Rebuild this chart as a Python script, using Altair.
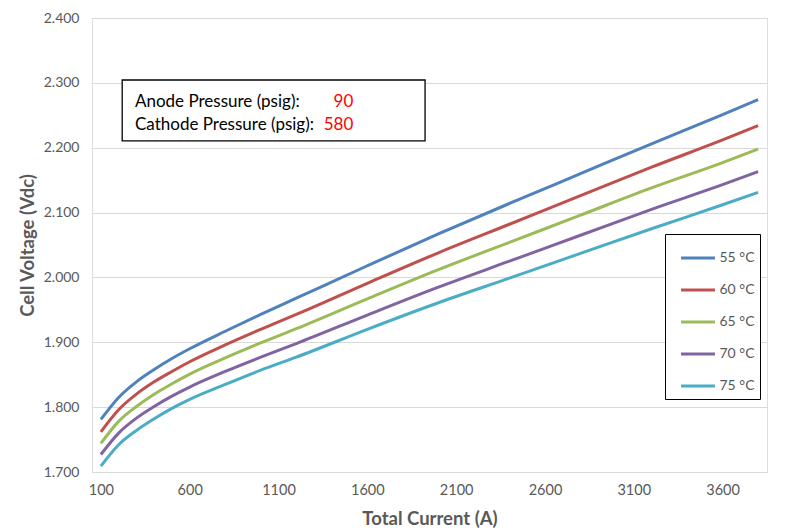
import altair as alt
import pandas as pd

# ---- data ----
current = [100, 200, 300, 400, 500, 600, 800, 1000, 1200, 1600, 2000, 2400, 2800, 3200, 3600, 3800]
v55 = [1.781, 1.815, 1.839, 1.858, 1.875, 1.890, 1.917, 1.943, 1.968, 2.018, 2.067, 2.114, 2.160, 2.206, 2.251, 2.274]
v60 = [1.762, 1.796, 1.820, 1.839, 1.855, 1.870, 1.896, 1.920, 1.943, 1.991, 2.038, 2.082, 2.126, 2.170, 2.212, 2.234]
v65 = [1.744, 1.778, 1.801, 1.820, 1.836, 1.851, 1.876, 1.899, 1.921, 1.967, 2.012, 2.054, 2.096, 2.138, 2.177, 2.198]
v70 = [1.727, 1.760, 1.783, 1.801, 1.817, 1.831, 1.855, 1.877, 1.898, 1.942, 1.985, 2.025, 2.065, 2.105, 2.143, 2.163]
v75 = [1.709, 1.742, 1.764, 1.782, 1.798, 1.812, 1.835, 1.857, 1.877, 1.920, 1.961, 1.999, 2.037, 2.075, 2.112, 2.131]
series = ["55 °C", "60 °C", "65 °C", "70 °C", "75 °C"]
colors = ["#4F81BD", "#C0504D", "#9BBB59", "#8064A2", "#4BACC6"]
x_ticks = [100, 600, 1100, 1600, 2100, 2600, 3100, 3600]
y_ticks = [1.7, 1.8, 1.9, 2.0, 2.1, 2.2, 2.3, 2.4]
note_labels = ["Anode Pressure (psig):", "Cathode Pressure (psig):"]
note_values = ["90", "580"]

# ---- tables ----
rows = []
for name, vals in zip(series, [v55, v60, v65, v70, v75]):
    for c, v in zip(current, vals):
        rows.append({"current": c, "voltage": v, "series": name})
df = pd.DataFrame(rows)

# annotation placement (data coordinates)
box = pd.DataFrame([{"x": 220, "x2": 1925, "y": 2.3044, "y2": 2.2104}])
notes = pd.DataFrame({"label": note_labels, "value": note_values,
                      "x": [292, 292], "xv": [1521, 1521], "y": [2.2710, 2.2350]})

FONT = "Lato"
GRAY = "#595959"

x_scale = alt.Scale(domain=[50, 3850], nice=False, zero=False)
y_scale = alt.Scale(domain=[1.7, 2.4], nice=False, zero=False)

lines = alt.Chart(df).mark_line(strokeWidth=3, interpolate="monotone").encode(
    x=alt.X("current:Q", scale=x_scale,
            axis=alt.Axis(title="Total Current (A)", values=x_ticks, format="d", grid=False,
                          domain=False, ticks=False, labelPadding=11, titlePadding=13,
                          labelFontSize=14.5, titleFontSize=18.5, labelColor=GRAY,
                          titleColor=GRAY, labelFont=FONT, titleFont=FONT,
                          titleFontWeight="bold")),
    y=alt.Y("voltage:Q", scale=y_scale,
            axis=alt.Axis(title="Cell Voltage (Vdc)", values=y_ticks, format=".3f",
                          grid=True, gridColor="#d9d9d9", gridWidth=1, domain=False,
                          ticks=False, labelPadding=13, titlePadding=6,
                          labelFontSize=14, titleFontSize=18.5, labelColor=GRAY,
                          titleColor=GRAY, labelFont=FONT, titleFont=FONT,
                          titleFontWeight="bold")),
    color=alt.Color("series:N", scale=alt.Scale(domain=series, range=colors),
                    legend=alt.Legend(orient="none", legendX=573, legendY=216, title=None,
                                      symbolType="stroke", symbolSize=1150,
                                      symbolStrokeWidth=3, labelFontSize=14,
                                      labelColor=GRAY, labelFont=FONT, padding=5.5,
                                      symbolOffset=9,
                                      strokeColor="black", fillColor="white",
                                      rowPadding=6.0, labelOffset=3)),
)

rect = alt.Chart(box).mark_rect(fill="white", stroke="black", strokeWidth=1.3).encode(
    x=alt.X("x:Q", scale=x_scale), x2="x2:Q",
    y=alt.Y("y:Q", scale=y_scale), y2="y2:Q",
)

label_text = alt.Chart(notes).mark_text(align="left", baseline="middle", font=FONT,
                                        fontSize=17, color="black").encode(
    x=alt.X("x:Q", scale=x_scale), y=alt.Y("y:Q", scale=y_scale), text="label:N")

value_text = alt.Chart(notes).mark_text(align="right", baseline="middle", font=FONT,
                                        fontSize=17, color="#FF0000").encode(
    x=alt.X("xv:Q", scale=x_scale), y=alt.Y("y:Q", scale=y_scale), text="value:N")

chart = alt.layer(lines, rect, label_text, value_text).properties(
    width=675, height=454,
    padding={"left": 84, "top": 10, "right": 30, "bottom": 57},
    autosize=alt.AutoSizeParams(type="none"),
).configure_view(stroke=None).configure(background="white")

chart.save("out.html", embed_options={"renderer": "svg", "actions": False})
